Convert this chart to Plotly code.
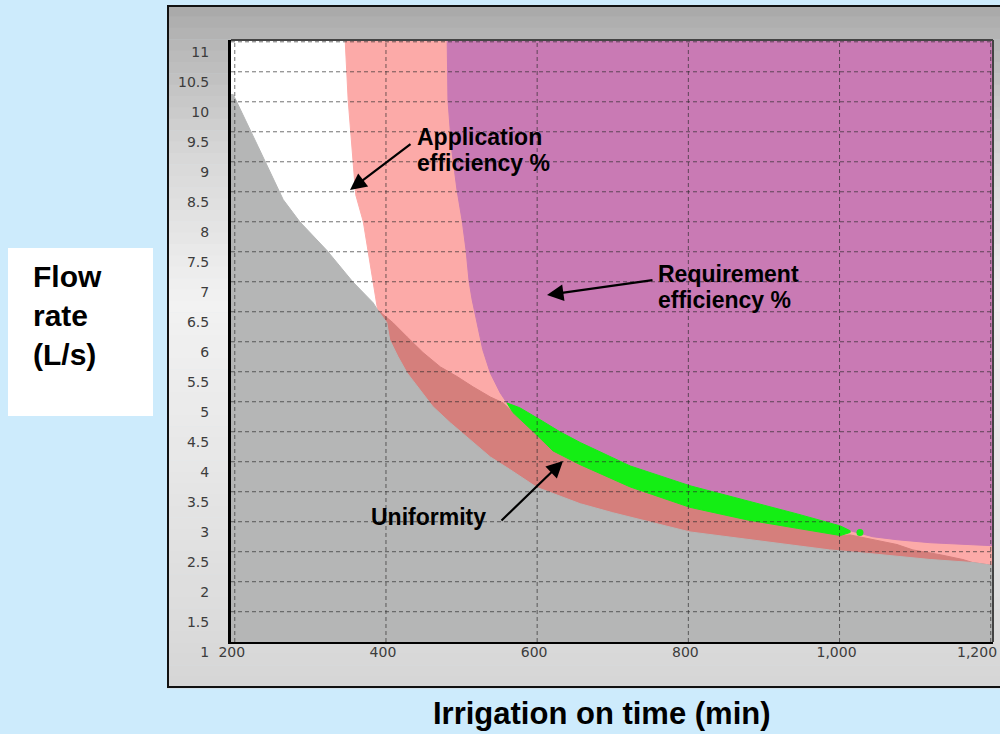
import plotly.graph_objects as go

# ---------------- axis ticks ----------------
x_tick_vals = [200, 400, 600, 800, 1000, 1200]
x_tick_text = ["200", "400", "600", "800", "1,000", "1,200"]
y_tick_vals = [1, 1.5, 2, 2.5, 3, 3.5, 4, 4.5, 5, 5.5, 6, 6.5, 7, 7.5, 8, 8.5, 9, 9.5, 10, 10.5, 11]
y_tick_text = ["1", "1.5", "2", "2.5", "3", "3.5", "4", "4.5", "5", "5.5", "6", "6.5",
               "7", "7.5", "8", "8.5", "9", "9.5", "10", "10.5", "11"]

# ---------------- region boundaries ----------------
# upper edge of the gray (unacceptable) region
gray_edge_x = [195, 198, 231, 264, 286, 322, 356, 383, 389, 401, 405, 416, 428, 445, 462, 485,
               511, 538, 564, 600, 657, 700, 802, 900, 987, 1031, 1076, 1120, 1176, 1203]
gray_edge_y = [10.12, 10.12, 9.25, 8.37, 8.0, 7.52, 7.0, 6.65, 6.53, 6.32, 6.03, 5.75, 5.48, 5.2,
               4.92, 4.65, 4.37, 4.08, 3.87, 3.57, 3.3, 3.15, 2.83, 2.67, 2.53, 2.48, 2.42, 2.37,
               2.32, 2.27]
# left edge of the application-efficiency region (white | pink)
app_edge_x = [346, 350, 355, 360, 370, 376, 383, 386, 389]
app_edge_y = [11.03, 10.03, 9.2, 8.45, 8.0, 7.52, 7.0, 6.7, 6.53]
# upper edge of the darker overlap band (pink | salmon)
salmon_top_x = [389, 409, 428, 449, 472, 494, 515, 538, 555, 568, 595, 621, 657, 723, 802, 878,
                944, 1001, 1014, 1044, 1076, 1097, 1133, 1163, 1176]
salmon_top_y = [6.53, 6.32, 6.08, 5.82, 5.58, 5.42, 5.25, 5.08, 4.98, 4.82, 4.5, 4.18, 3.95, 3.58,
                3.24, 3.03, 2.89, 2.77, 2.78, 2.7, 2.62, 2.53, 2.45, 2.37, 2.32]
# left edge of the requirement-efficiency region (pink | purple)
req_edge_x = [481, 482, 487, 494, 501, 506, 510, 514, 520, 528, 538, 551, 560]
req_edge_y = [11.03, 10.03, 9.2, 8.53, 8.0, 7.52, 7.0, 6.7, 6.32, 5.87, 5.48, 5.15, 4.98]
# lower edge of the requirement-efficiency region beyond the green band
req_tail_x = [1044, 1076, 1120, 1203]
req_tail_y = [2.75, 2.7, 2.65, 2.6]
# green uniformity band
uni_top_x = [560, 577, 604, 630, 657, 723, 802, 878, 944, 1001, 1014]
uni_top_y = [4.98, 4.9, 4.7, 4.5, 4.32, 3.93, 3.6, 3.35, 3.13, 2.93, 2.85]
uni_bot_x = [560, 568, 595, 621, 657, 723, 802, 878, 944, 1001, 1014]
uni_bot_y = [4.98, 4.82, 4.5, 4.18, 3.95, 3.58, 3.24, 3.03, 2.89, 2.77, 2.82]
uni_dot_x = [1027]
uni_dot_y = [2.82]

# ---------------- colours ----------------
C_GRAY = "#b5b6b6"
C_PINK = "#fcaaa8"
C_SALMON = "#d57f7c"
C_PURPLE = "#c97ab4"
C_GREEN = "#14ee14"
C_PAGE = "#cdebfc"

X_RANGE = [195, 1203]
Y_RANGE = [0.995, 11.03]
XL, XR = 180, 1230   # beyond the plot edges (clipped)
YB, YT = 0.5, 11.6

# ---------------- layout geometry (pixels) ----------------
W, H = 1000, 734
PL, PR, PT, PB = 231, 993, 40, 642


def px(xp):
    return (xp - PL) / (PR - PL)


def py(yp):
    return (PB - yp) / (PB - PT)


fig = go.Figure()


def poly(xs, ys, color):
    fig.add_trace(go.Scatter(x=xs, y=ys, mode="lines", fill="toself", fillcolor=color,
                             line=dict(color=color, width=1), hoverinfo="skip",
                             showlegend=False))


# pink (application efficiency) – large, underlies everything to its right
pink_x = [app_edge_x[0]] + app_edge_x + [app_edge_x[-1], XR, XR]
pink_y = [YT] + app_edge_y + [YB, YB, YT]
poly(pink_x, pink_y, C_PINK)

# salmon overlap band – from its upper edge down
sal_x = salmon_top_x + [gray_edge_x[-1], XR, XR, salmon_top_x[0]]
sal_y = salmon_top_y + [gray_edge_y[-1], gray_edge_y[-1], YB, YB]
poly(sal_x, sal_y, C_SALMON)

# gray region
gray_x = [XL] + gray_edge_x + [XR, XR, XL]
gray_y = [gray_edge_y[0]] + gray_edge_y + [gray_edge_y[-1], YB, YB]
poly(gray_x, gray_y, C_GRAY)

# purple (requirement efficiency)
pur_x = [req_edge_x[0]] + req_edge_x + uni_top_x + req_tail_x + [XR, XR]
pur_y = [YT] + req_edge_y + uni_top_y + req_tail_y + [req_tail_y[-1], YT]
poly(pur_x, pur_y, C_PURPLE)

# green uniformity band
poly(uni_top_x + uni_bot_x[::-1], uni_top_y + uni_bot_y[::-1], C_GREEN)
fig.add_trace(go.Scatter(x=uni_dot_x, y=uni_dot_y, mode="markers",
                         marker=dict(color=C_GREEN, size=7), hoverinfo="skip",
                         showlegend=False))

shapes = []
# panel background gradient
stops = [(5, (168, 168, 168)), (40, (182, 182, 182)), (150, (214, 214, 214)),
         (300, (242, 242, 242)), (420, (234, 234, 234)), (560, (224, 224, 224)),
         (688, (214, 214, 214))]
n = 60
top, bot = 5, 688
for i in range(n):
    y0 = top + (bot - top) * i / n
    y1 = top + (bot - top) * (i + 1) / n
    ym = (y0 + y1) / 2
    for k in range(len(stops) - 1):
        if stops[k][0] <= ym <= stops[k + 1][0]:
            t = (ym - stops[k][0]) / (stops[k + 1][0] - stops[k][0])
            c = [round(stops[k][1][j] + t * (stops[k + 1][1][j] - stops[k][1][j])) for j in range(3)]
            break
    shapes.append(dict(type="rect", xref="paper", yref="paper", layer="below",
                       x0=px(167), x1=px(1000), y0=py(y1 + 0.5), y1=py(y0),
                       fillcolor="rgb(%d,%d,%d)" % tuple(c), line=dict(width=0)))
# panel border (left, top, bottom)
shapes.append(dict(type="rect", xref="paper", yref="paper", layer="below",
                   x0=px(168), x1=px(1003), y0=py(687), y1=py(6),
                   fillcolor="rgba(0,0,0,0)", line=dict(color="#111", width=2)))
# plot area white
shapes.append(dict(type="rect", xref="paper", yref="paper", layer="below",
                   x0=0, x1=1, y0=0, y1=1, fillcolor="white", line=dict(width=0)))
# white box behind y title
shapes.append(dict(type="rect", xref="paper", yref="paper", layer="below",
                   x0=px(8), x1=px(153), y0=py(416), y1=py(248),
                   fillcolor="white", line=dict(width=0)))

# dashed grid lines above the regions
grid_style = dict(color="rgba(40,40,40,0.66)", width=1, dash="4px,3px")
for v in x_tick_vals:
    shapes.append(dict(type="line", xref="x", yref="paper", x0=v, x1=v, y0=0, y1=1,
                       layer="above", line=grid_style))
for v in y_tick_vals[1:]:
    shapes.append(dict(type="line", xref="paper", yref="y", x0=0, x1=1, y0=v, y1=v,
                       layer="above", line=grid_style))
# top & right frame
shapes.append(dict(type="line", xref="paper", yref="paper", x0=0, x1=1, y0=1, y1=1,
                   layer="above", line=dict(color="#444", width=2)))
shapes.append(dict(type="line", xref="paper", yref="paper", x0=1, x1=1, y0=0, y1=1,
                   layer="above", line=dict(color="#444", width=2)))

FONT = "Liberation Sans, Arial, sans-serif"
ann_font = dict(family=FONT, size=23, color="black")
tick_font = dict(family="DejaVu Sans, Verdana, sans-serif", size=14, color="#3c3c3c")


def label(text, xp, yp):
    return dict(xref="paper", yref="paper", x=px(xp), y=py(yp), xanchor="left",
                yanchor="middle", text="<b>%s</b>" % text, showarrow=False, font=ann_font)


def arrow(xp, yp, dx, dy):
    return dict(xref="paper", yref="paper", x=px(xp), y=py(yp), ax=dx, ay=dy, text="",
                showarrow=True, arrowhead=2, arrowsize=1.5, arrowwidth=2.2,
                arrowcolor="black")


annotations = [
    label("Application", 415, 137),
    label("efficiency %", 415, 163),
    label("Requirement", 656, 274),
    label("efficiency %", 656, 300),
    label("Uniformity", 369, 517),
    arrow(350, 190, 62, -47),
    arrow(547, 295, 107, -15),
    arrow(563, 461, -63, 61),
    # last x tick label, kept inside the page edge
    dict(xref="paper", yref="paper", x=px(999), y=py(652), xanchor="right", yanchor="middle",
         text=x_tick_text[-1], showarrow=False, font=tick_font),
    # axis titles
    dict(xref="paper", yref="paper", x=px(31), y=py(315), xanchor="left", yanchor="middle",
         text="<b>Flow<br>rate<br>(L/s)</b>", align="left", showarrow=False,
         font=dict(family=FONT, size=30, color="black")),
    dict(xref="paper", yref="paper", x=px(602), y=py(714), xanchor="center", yanchor="middle",
         text="<b>Irrigation on time (min)</b>", showarrow=False,
         font=dict(family=FONT, size=31, color="black")),
]

axis_tick_text = x_tick_text[:-1] + [""]

fig.update_layout(
    width=W, height=H,
    margin=dict(l=PL, r=W - PR, t=PT, b=H - PB, pad=0, autoexpand=False),
    paper_bgcolor=C_PAGE, plot_bgcolor="white",
    showlegend=False,
    shapes=shapes, annotations=annotations,
    xaxis=dict(range=X_RANGE, tickvals=x_tick_vals, ticktext=axis_tick_text, showgrid=False,
               zeroline=False, showline=True, linecolor="black", linewidth=2,
               ticks="", tickfont=tick_font, ticklabelstandoff=-4, ticklabelshift=-3,
               ticklabeloverflow="allow", automargin=False),
    yaxis=dict(range=Y_RANGE, tickvals=y_tick_vals, ticktext=y_tick_text, showgrid=False,
               zeroline=False, showline=True, linecolor="black", linewidth=3,
               ticks="", tickfont=tick_font, ticklabelshift=10, ticklabelstandoff=16,
               automargin=False),
)

post = (
    "document.documentElement.style.overflow='hidden';"
    "document.body.style.margin='0px';"
    "document.body.style.overflow='hidden';"
    "var gd=document.getElementsByClassName('plotly-graph-div')[0];"
    "gd.style.overflow='hidden';"
)
fig.write_html("out.html", config={"displayModeBar": False}, post_script=post)
